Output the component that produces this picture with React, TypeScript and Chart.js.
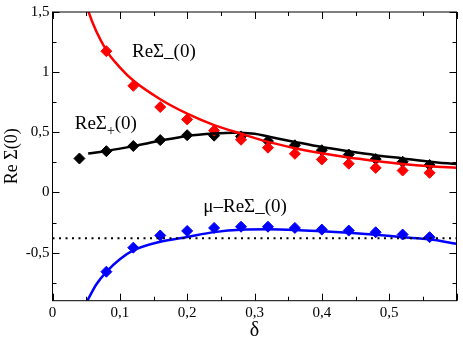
import React, { useEffect, useRef } from 'react';
import { Chart, registerables } from 'chart.js';

Chart.register(...registerables);

// ---- data ----
const xTickValues = [0, 0.1, 0.2, 0.3, 0.4, 0.5, 0.6];
const yTickValues = [-0.5, 0, 0.5, 1, 1.5];

const deltaRed = [0.08, 0.12, 0.16, 0.2, 0.24, 0.28, 0.32, 0.36, 0.4, 0.44, 0.48, 0.52, 0.56];
const reSigmaMinusPts = [1.174, 0.886, 0.71, 0.607, 0.514, 0.438, 0.372, 0.321, 0.274, 0.239, 0.204, 0.182, 0.163];

const deltaBlack = [0.04, 0.08, 0.12, 0.16, 0.2, 0.24, 0.28, 0.32, 0.36, 0.4, 0.44, 0.48, 0.52, 0.56];
const reSigmaPlusPts = [0.282, 0.343, 0.386, 0.435, 0.476, 0.472, 0.466, 0.427, 0.392, 0.351, 0.315, 0.277, 0.255, 0.228];

const deltaBlue = [0.08, 0.12, 0.16, 0.2, 0.24, 0.28, 0.32, 0.36, 0.4, 0.44, 0.48, 0.52, 0.56];
const muMinusPts = [-0.659, -0.459, -0.358, -0.32, -0.295, -0.285, -0.285, -0.295, -0.309, -0.317, -0.331, -0.35, -0.372];

const curveRedX = [0.05, 0.0537, 0.08, 0.1, 0.12, 0.16, 0.2, 0.24, 0.28, 0.32, 0.36, 0.4, 0.44, 0.48, 0.52, 0.56, 0.6];
const curveRedY = [1.58, 1.5, 1.18, 1.04, 0.93, 0.775, 0.655, 0.56, 0.488, 0.42, 0.368, 0.325, 0.29, 0.262, 0.237, 0.218, 0.205];

const curveBlackX = [0.053, 0.08, 0.12, 0.16, 0.2, 0.24, 0.27, 0.3, 0.32, 0.36, 0.4, 0.44, 0.48, 0.52, 0.56, 0.6];
const curveBlackY = [0.323, 0.345, 0.385, 0.43, 0.47, 0.49, 0.497, 0.487, 0.465, 0.42, 0.377, 0.342, 0.31, 0.283, 0.256, 0.236];

const curveBlueX = [0.0517, 0.065, 0.08, 0.1, 0.12, 0.16, 0.2, 0.24, 0.28, 0.32, 0.36, 0.4, 0.44, 0.48, 0.52, 0.56, 0.6];
const curveBlueY = [-0.9, -0.765, -0.66, -0.555, -0.482, -0.41, -0.37, -0.33, -0.31, -0.307, -0.312, -0.323, -0.336, -0.352, -0.372, -0.39, -0.427];

const refX = [0, 0.6];
const refY = [-0.38, -0.38];

const labelMinus = 'ReΣ_(0)';
const labelPlusMain = 'ReΣ';
const labelPlusSub = '+';
const labelPlusTail = '(0)';
const labelMu = 'μ–ReΣ_(0)';
const yTitle = 'Re Σ(0)';
const xTitle = 'δ';

const FONT = '"Liberation Serif", "Times New Roman", serif';

const zip = (xs: number[], ys: number[]) => xs.map((x, i) => ({ x, y: ys[i] }));
const fmt = (v: number) => String(Math.round(v * 100) / 100).replace('.', ',');

const decorPlugin = {
  id: 'decor',
  afterDraw(chart: any) {
    const ctx = chart.ctx;
    const xs = chart.scales.x;
    const ys = chart.scales.y;
    const { left, right, top, bottom } = chart.chartArea;
    ctx.save();
    // frame
    ctx.strokeStyle = '#000';
    ctx.lineWidth = 1;
    ctx.strokeRect(left, top, right - left, bottom - top);
    // ticks
    const drawX = (v: number, len: number) => {
      const p = Math.round(xs.getPixelForValue(v)) + 0.5;
      ctx.beginPath();
      ctx.moveTo(p, bottom); ctx.lineTo(p, bottom - len);
      ctx.moveTo(p, top); ctx.lineTo(p, top + len);
      ctx.stroke();
    };
    const drawY = (v: number, len: number) => {
      const p = Math.round(ys.getPixelForValue(v)) + 0.5;
      ctx.beginPath();
      ctx.moveTo(left, p); ctx.lineTo(left + len, p);
      ctx.moveTo(right, p); ctx.lineTo(right - len, p);
      ctx.stroke();
    };
    xTickValues.forEach((v) => drawX(v, 7));
    xTickValues.forEach((v) => { if (v + 0.05 < 0.6) drawX(v + 0.05, 4); });
    yTickValues.forEach((v) => drawY(v, 7));
    yTickValues.forEach((v) => { if (v - 0.25 > -0.9) drawY(v - 0.25, 4); });

    // annotations
    ctx.fillStyle = '#000';
    ctx.textBaseline = 'alphabetic';
    ctx.textAlign = 'left';
    ctx.font = `19px ${FONT}`;
    ctx.fillText(labelMinus, xs.getPixelForValue(0.118), ys.getPixelForValue(1.127));
    ctx.fillText(labelMu, xs.getPixelForValue(0.224), ys.getPixelForValue(-0.162));
    let px = xs.getPixelForValue(0.033);
    const py = ys.getPixelForValue(0.528);
    ctx.fillText(labelPlusMain, px, py);
    px += ctx.measureText(labelPlusMain).width;
    ctx.font = `14px ${FONT}`;
    ctx.fillText(labelPlusSub, px, py + 6);
    px += ctx.measureText(labelPlusSub).width;
    ctx.font = `19px ${FONT}`;
    ctx.fillText(labelPlusTail, px, py);

    // axis titles
    ctx.textAlign = 'center';
    ctx.textBaseline = 'middle';
    ctx.font = `20px ${FONT}`;
    ctx.fillText(xTitle, (left + right) / 2, 331);
    ctx.save();
    ctx.translate(12, (top + bottom) / 2);
    ctx.rotate(-Math.PI / 2);
    ctx.font = `18px ${FONT}`;
    ctx.fillText(yTitle, 0, 0);
    ctx.restore();
    ctx.restore();
  },
};

export default function App() {
  const ref = useRef<HTMLCanvasElement>(null);
  useEffect(() => {
    document.body.style.margin = '0';
    const curve = (xs: number[], ys: number[], color: string) => ({
      type: 'line' as const,
      data: zip(xs, ys),
      borderColor: color,
      borderWidth: 2.5,
      pointRadius: 0,
      pointHoverRadius: 0,
      cubicInterpolationMode: 'monotone' as const,
      fill: false,
    });
    const marks = (xs: number[], ys: number[], color: string) => ({
      type: 'scatter' as const,
      data: zip(xs, ys),
      backgroundColor: color,
      borderColor: color,
      borderWidth: 1,
      pointStyle: 'rectRot' as const,
      pointRadius: 5.5,
      showLine: false,
    });
    const chart = new Chart(ref.current!, {
      type: 'scatter',
      data: {
        datasets: [
          {
            type: 'line',
            data: zip(refX, refY),
            borderColor: '#000',
            borderWidth: 2,
            borderDash: [2, 4.5],
            pointRadius: 0,
            fill: false,
          } as any,
          curve(curveBlueX, curveBlueY, '#0000ff'),
          curve(curveRedX, curveRedY, '#ff0000'),
          curve(curveBlackX, curveBlackY, '#000000'),
          marks(deltaBlue, muMinusPts, '#0000ff'),
          marks(deltaRed, reSigmaMinusPts, '#ff0000'),
          marks(deltaBlack, reSigmaPlusPts, '#000000'),
        ] as any,
      },
      options: {
        responsive: false,
        animation: false,
        devicePixelRatio: 1,
        layout: { padding: { left: 0, top: 7, right: 2.5, bottom: 0 } },
        plugins: { legend: { display: false }, tooltip: { enabled: false } },
        events: [],
        scales: {
          x: {
            type: 'linear',
            min: 0,
            max: 0.6,
            grid: { display: false, drawTicks: false },
            border: { display: false },
            afterFit: (s: any) => { s.height = 39.3; },
            afterBuildTicks: (s: any) => { s.ticks = xTickValues.map((v) => ({ value: v })); },
            ticks: {
              padding: 3,
              autoSkip: false,
              maxRotation: 0,
              color: '#000',
              font: { family: FONT, size: 15 },
              callback: (v: any) => (Number(v) >= 0.59 ? '' : fmt(Number(v))),
            },
          },
          y: {
            type: 'linear',
            min: -0.9,
            max: 1.5,
            grid: { display: false, drawTicks: false },
            border: { display: false },
            afterFit: (s: any) => { s.width = 52.5; },
            afterBuildTicks: (s: any) => { s.ticks = yTickValues.map((v) => ({ value: v })); },
            ticks: {
              padding: 3,
              autoSkip: false,
              color: '#000',
              font: { family: FONT, size: 15 },
              callback: (v: any) => fmt(Number(v)),
            },
          },
        },
      } as any,
      plugins: [decorPlugin],
    });
    return () => chart.destroy();
  }, []);
  return (
    <div style={{ width: 463, height: 340 }}>
      <canvas ref={ref} width={463} height={340} />
    </div>
  );
}
